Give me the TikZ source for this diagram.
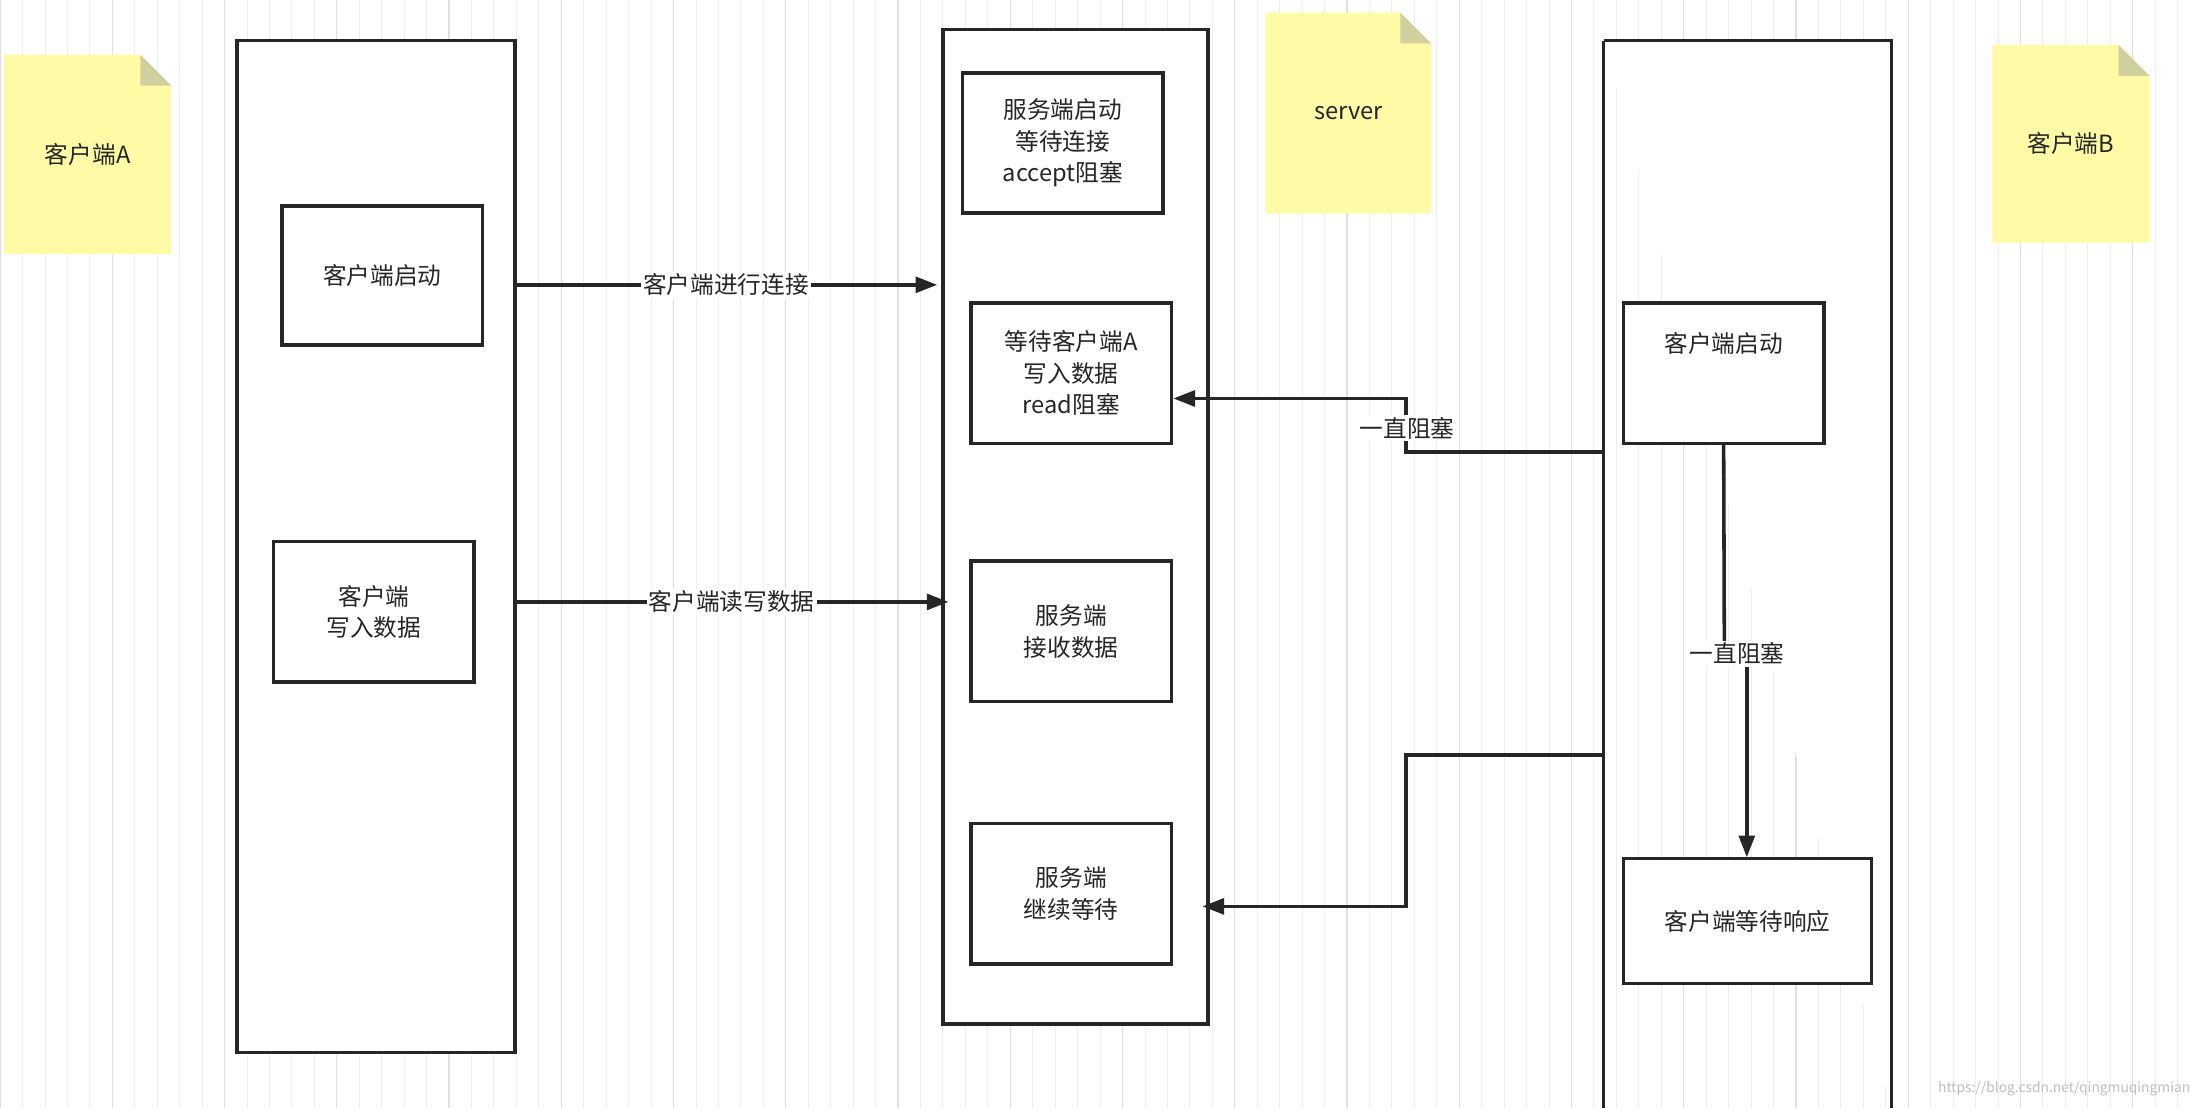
\documentclass[tikz,border=0pt]{standalone}
\usepackage{fontspec}
\setmainfont{Noto Sans CJK SC}
\usetikzlibrary{arrows.meta}
\begin{document}
\begin{tikzpicture}[x=0.025cm,y=-0.025cm,
  every node/.style={font=\fontsize{12}{16}\selectfont, text=black!85},
  lane/.style={draw=black!85, line width=1.8pt, fill=white},
  boxn/.style={draw=black!85, line width=1.8pt, fill=white, align=center},
  conn/.style={draw=black!85, line width=1.8pt},
  arr/.style={conn, -{Triangle[length=11pt,width=8pt]}},
  lbl/.style={fill=white, inner sep=1pt},
  note/.style={fill=yellow!35!white}]
\useasboundingbox (0,0) rectangle (1568,790);
\fill[white] (0,0) rectangle (1568,790);
\draw[black!7, line width=0.4pt, step=16] (0,0) grid (1568,790);
\draw[black!12, line width=0.6pt, step=80] (0,0) grid (1568,790);
% sticky notes
\foreach \xa/\ya/\xb/\yb/\t/\n in {3/39/122/181/客户端A/na, 902/9/1020/152/server/ns, 1420/32/1532/173/客户端B/nb}{
  \fill[note] (\xa,\ya) -- (\xb-22,\ya) -- (\xb,\ya+22) -- (\xb,\yb) -- (\xa,\yb) -- cycle;
  \fill[yellow!55!black!45] (\xb-22,\ya) -- (\xb-22,\ya+22) -- (\xb,\ya+22) -- cycle;
  \node (\n) at ({(\xa+\xb)/2},{(\ya+\yb)/2}) {\t};
}
% lanes
\draw[lane] (169,29) rectangle (367,750);
\draw[lane] (672,21) rectangle (861,730);
\draw[lane] (1143,29) -- (1143,790) (1348,790) -- (1348,29) -- (1143,29);
\coordinate (L1) at (367,203); \coordinate (L2) at (367,429);
% boxes
\node[boxn, minimum width=143*0.025cm, minimum height=99*0.025cm] (a1) at (272.5,196.5) {客户端启动};
\node[boxn, minimum width=143*0.025cm, minimum height=100*0.025cm] (a2) at (266.5,436) {客户端\\写入数据};
\node[boxn, minimum width=143*0.025cm, minimum height=100*0.025cm] (s1) at (757.5,102) {服务端启动\\等待连接\\accept阻塞};
\node[boxn, minimum width=143*0.025cm, minimum height=100*0.025cm] (s2) at (763.5,266) {等待客户端A\\写入数据\\read阻塞};
\node[boxn, minimum width=143*0.025cm, minimum height=100*0.025cm] (s3) at (763.5,450) {服务端\\接收数据};
\node[boxn, minimum width=143*0.025cm, minimum height=100*0.025cm] (s4) at (763.5,637) {服务端\\继续等待};
\node[boxn, minimum width=143*0.025cm, minimum height=100*0.025cm] (b1) at (1228.5,266) {客户端启动\\[1.3em]};
\node[boxn, minimum width=177*0.025cm, minimum height=89*0.025cm] (b2) at (1245.5,656.5) {客户端等待响应};
% connectors
\coordinate (T1) at (668,203); \coordinate (T2) at (676,429);
\draw[arr] (L1) -- node[lbl]{客户端进行连接} (T1);
\draw[arr] (L2) -- node[lbl]{客户端读写数据} (T2);
\coordinate (R1) at (1143,322); \coordinate (R2) at (1143,538);
\draw[arr] (R1) -- (1002,322) -- (1002,284) -- (s2.east |- 0,284);
\node[lbl] (l3) at (1003,305) {一直阻塞};
\draw[arr] (R2) -- (1002,538) -- (1002,646) -- (857,646);
\draw[conn] (b1.south) -- (1229,466) -- (1245,466);
\draw[arr] (1245,466) -- (1245,611);
\node[lbl] (l4) at (1238,466) {一直阻塞};
\node[text=black!25, font=\fontsize{7}{8}\selectfont, anchor=south east] (wm) at (1566,786) {https://blog.csdn.net/qingmuqingmian};
\end{tikzpicture}
\end{document}
